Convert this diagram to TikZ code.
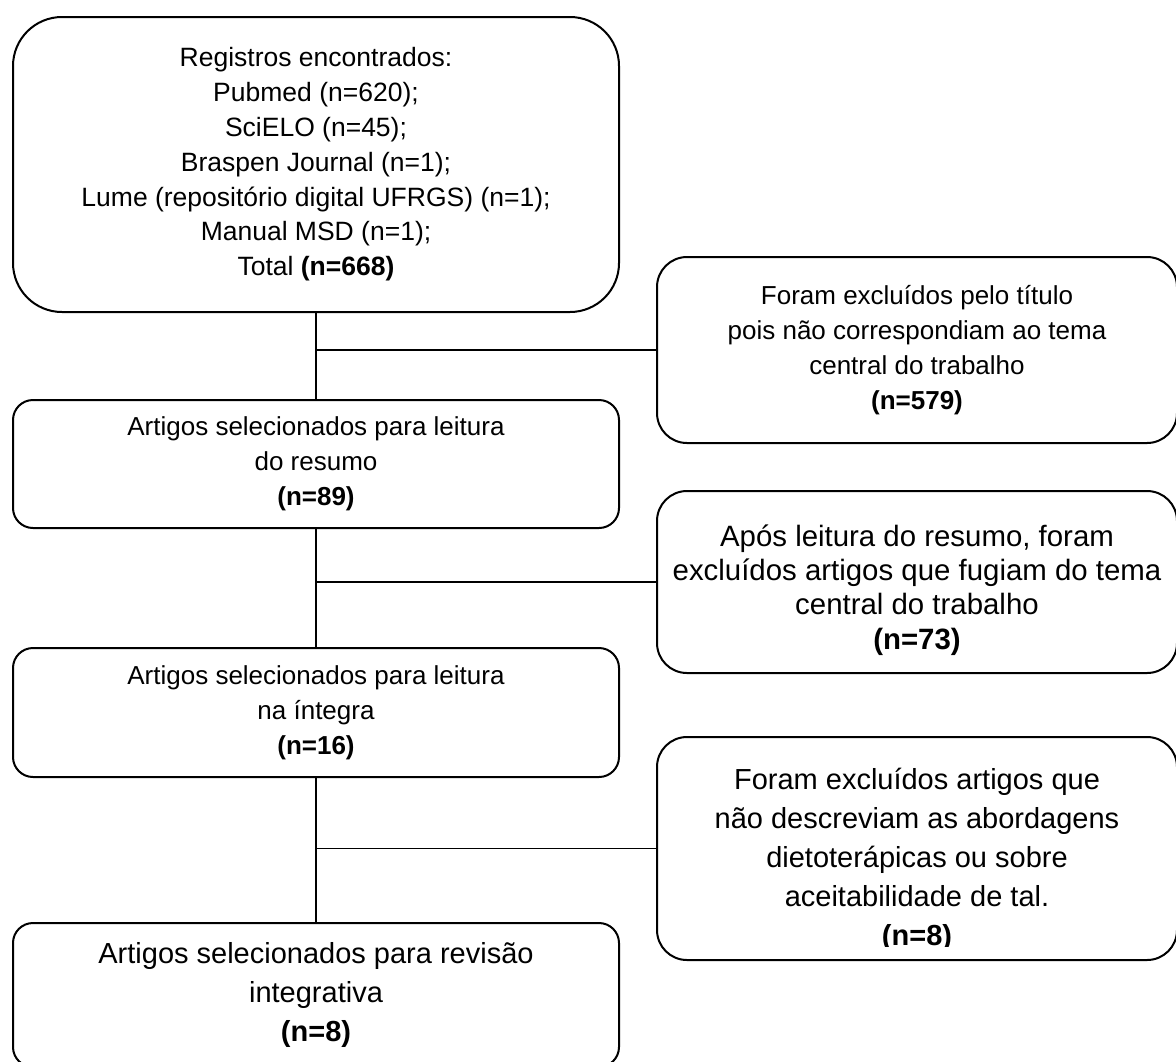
\documentclass[tikz,border=0pt]{standalone}
\usepackage{fontspec}
\setmainfont{Liberation Sans}
\begin{document}
\begin{tikzpicture}[x=0.5pt,y=-0.5pt,
  boxA/.style={draw=black,line width=1pt,rounded corners=24.5pt,inner sep=0pt,align=center,
    minimum width=303pt,minimum height=147.5pt,font=\fontsize{13.25}{17.4}\selectfont},
  boxL/.style={draw=black,line width=1pt,rounded corners=10pt,inner sep=0pt,align=center,
    minimum width=303pt,font=\fontsize{13}{17.4}\selectfont},
  boxR/.style={draw=black,line width=1pt,rounded corners=15pt,inner sep=0pt,align=center,
    minimum width=260pt,font=\fontsize{13}{17.4}\selectfont},
  big/.style={font=\fontsize{14.5}{19.5}\selectfont},
  mid/.style={font=\fontsize{14.7}{17.2}\selectfont},
  conn/.style={draw=black,line width=0.8pt}]
\useasboundingbox (0,0) rectangle (1176,1061);

\node[boxA] (b1) at (316,164.5) {Registros encontrados:\\Pubmed (n=620);\\SciELO (n=45);\\Braspen Journal (n=1);\\Lume (repositório digital UFRGS) (n=1);\\Manual MSD (n=1);\\Total \textbf{(n=668)}};

\node[boxL,minimum height=64pt] (b2) at (316,464) {Artigos selecionados para leitura\\do resumo\\\textbf{(n=89)}};

\node[boxL,minimum height=64.5pt] (b3) at (316,712.5) {Artigos selecionados para leitura\\na íntegra\\\textbf{(n=16)}};

\node[boxL,big,minimum height=72pt] (b4) at (316,995) {Artigos selecionados para revisão\\integrativa\\\textbf{(n=8)}};

\node[boxR,minimum height=93pt] (r1) at (917,350) {Foram excluídos pelo título\\pois não correspondiam ao tema\\central do trabalho\\\textbf{(n=579)}};

\node[boxR,minimum height=91pt] (r2) at (917,582) {};
\node[mid,align=center,inner sep=0pt] (r2t) at (917,590) {Após leitura do resumo, foram\\excluídos artigos que fugiam do tema\\central do trabalho\\\textbf{(n=73)}};

\node[boxR,minimum height=111.5pt] (r3) at (917,848.5) {};
\begin{scope}
  \clip (657,737) rectangle (1177,946);
  \node[big,align=center,inner sep=0pt] (r3t) at (917,860) {Foram excluídos artigos que\\não descreviam as abordagens\\dietoterápicas ou sobre\\aceitabilidade de tal.\\\textbf{(n=8)}};
\end{scope}

\draw[conn] (b1.south) -- (b2.north);
\draw[conn] (b2.south) -- (b3.north);
\draw[conn] (b3.south) -- (b4.north);
\draw[conn] (b1.south |- r1.west) -- (r1.west);
\draw[conn] (b2.south |- r2.west) -- (r2.west);
\draw[conn] (b3.south |- r3.west) -- (r3.west);
\end{tikzpicture}
\end{document}
